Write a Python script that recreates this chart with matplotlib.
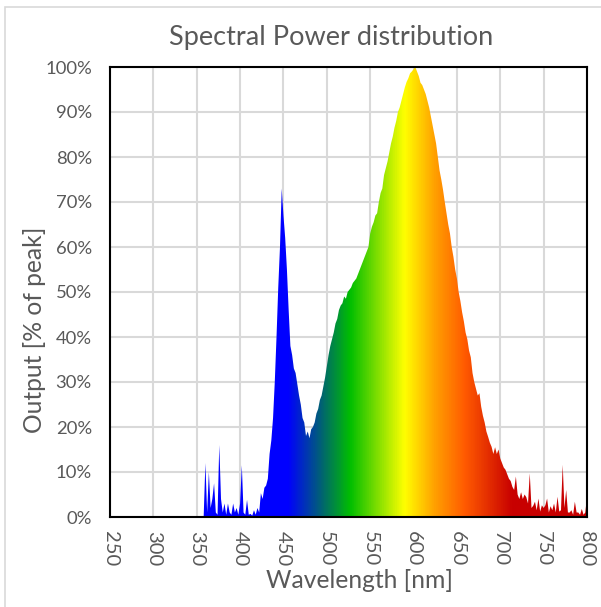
import numpy as np
import matplotlib.pyplot as plt
from matplotlib.colors import LinearSegmentedColormap
from matplotlib.patches import Rectangle

# spectrum, 2 nm steps from 358 to 800 nm, % of peak
wavelength = np.arange(358, 801, 2)
output = [
  0, 12, 1, 10, 2, 4, 7.5, 1, 0.5, 16,
  4, 1, 3, 0.5, 3, 1, 0.5, 3, 1, 2,
  0.5, 3, 11.5, 1, 0.5, 3.8, 0.5, 0.7, 0.3, 1.5,
  0.5, 2, 1, 5.3, 4, 6.5, 7, 8.5, 14, 17,
  22, 30, 40, 51, 60, 73, 67, 62, 55, 46,
  38, 36, 33, 32, 29.5, 27, 25, 22, 21, 18,
  19, 17.5, 19.5, 20, 21, 23, 24, 26, 27, 29,
  31, 33.5, 36, 38, 39.5, 41, 43, 44, 46, 47,
  47.5, 49, 48.5, 50, 50.5, 51, 52, 52.5, 53, 54,
  55, 56, 57, 58, 59, 60, 63, 64.5, 65.5, 67,
  67.5, 70, 72, 73, 76, 77.5, 79, 81, 83, 84.5,
  86.5, 88, 90, 91, 92.5, 94, 95.5, 96.7, 97.5, 98.6,
  99, 99.5, 100, 99, 98, 96.5, 96, 95, 94, 92.5,
  91, 89, 87, 85, 83, 80, 77, 75, 72.7, 70,
  67.5, 65, 63, 60, 57.8, 55, 53, 50, 48, 45.5,
  43.5, 41, 39.5, 37, 35.5, 32, 30, 28.5, 27, 27.5,
  24.5, 22.5, 21, 19, 17.8, 16.5, 15.6, 14, 15.5, 14,
  15, 13, 12, 11, 10.5, 9.5, 8.5, 8, 6.7, 6,
  9, 5, 4, 5.5, 4, 5, 4.4, 3, 9.7, 2,
  2.5, 3.4, 1.5, 4.1, 1.2, 2.6, 2, 2.6, 4.1, 1,
  2.4, 1.5, 3, 1, 4.5, 1.2, 1.5, 11.6, 2, 6,
  1, 1, 1.5, 0.5, 3.4, 1, 1, 0.5, 1.8, 0.5,
  1, 4.4,
]

# colour of the fill along the wavelength axis
spec_nm = [250, 455, 495, 527, 590, 625, 660, 715, 800]
spec_col = ['#0000ff', '#0000ff', '#00666e', '#00be00', '#ffff00',
            '#ffa000', '#ff5a00', '#c80000', '#c80000']

xticks = np.arange(250, 801, 50)
yticks = np.arange(0, 101, 10)

plt.rcParams['font.family'] = ['Lato', 'DejaVu Sans']
gray = '#595959'

W, H = 601, 607
fig = plt.figure(figsize=(W / 100, H / 100), dpi=100)
ax = fig.add_axes([110 / W, 1 - 517 / H, 477 / W, 450 / H])

stops = [(n - spec_nm[0]) / (spec_nm[-1] - spec_nm[0]) for n in spec_nm]
cmap = LinearSegmentedColormap.from_list('spec', list(zip(stops, spec_col)))

poly = ax.fill_between(wavelength, 0, output, facecolor='none', edgecolor='none')
grad = np.linspace(0, 1, 1100).reshape(1, -1)
im = ax.imshow(grad, cmap=cmap, extent=[250, 800, 0, 100], aspect='auto',
               origin='lower', zorder=2)
im.set_clip_path(poly.get_paths()[0], transform=ax.transData)

ax.set_xlim(250, 800)
ax.set_ylim(0, 100)
ax.set_xticks(xticks)
ax.set_yticks(yticks)
ax.set_yticklabels(['{}%'.format(v) for v in yticks])
ax.grid(True, color='#d9d9d9', linewidth=1.5)
ax.set_axisbelow(True)
ax.tick_params(length=0, colors=gray, labelsize=13.3, pad=13)
ax.tick_params(axis='x', labelrotation=-90, labelsize=14.5, pad=10)
for s in ax.spines.values():
  s.set_linewidth(1.5)
  s.set_color('black')

fig.text(331 / W, 1 - 37 / H, 'Spectral Power distribution', color=gray,
         fontsize=19.5, ha='center', va='center')
fig.text(359 / W, 1 - 580 / H, 'Wavelength [nm]', color=gray,
         fontsize=17.7, ha='center', va='center')
fig.text(35 / W, 1 - 330 / H, 'Output [% of peak]', color=gray,
         fontsize=17.7, ha='center', va='center', rotation=90)

fig.patches.append(Rectangle((5 / W, -0.01), 1.0, 1 - 7 / H + 0.01,
                             transform=fig.transFigure, facecolor='none',
                             edgecolor='#d9d9d9', linewidth=1.2))

plt.savefig('out.png', dpi=100)
